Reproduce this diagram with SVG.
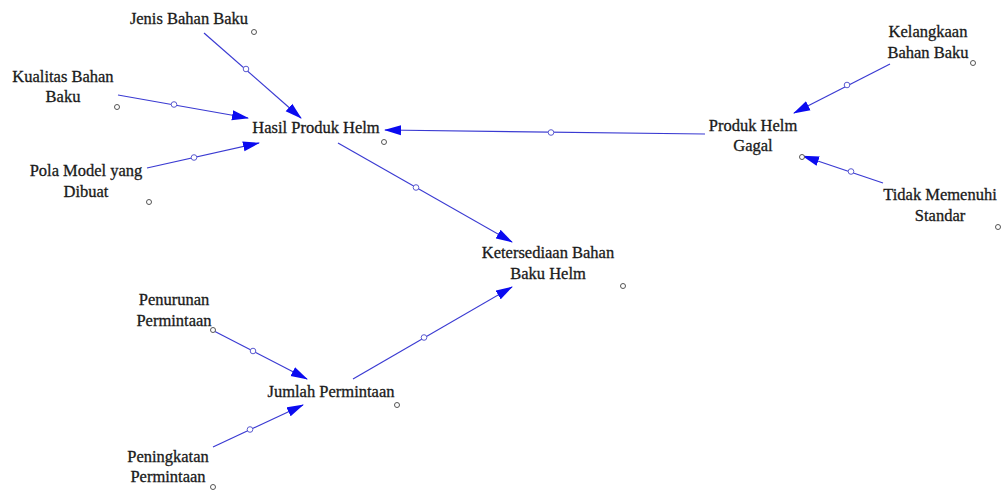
<svg xmlns="http://www.w3.org/2000/svg" width="1001" height="490" viewBox="0 0 1001 490">
<style>
.t{font-family:"Liberation Serif","Times New Roman",serif;font-size:16.5px;fill:#1a1a1a;stroke:#1a1a1a;stroke-width:0.3;text-anchor:middle}
.ln{stroke:#3a3ad2;stroke-width:1.2;fill:none}
.mc{fill:#fff;stroke:#5a5ad0;stroke-width:1}
.vc{fill:#fff;stroke:#555;stroke-width:1}
</style>
<defs>
<marker id="ah" markerUnits="userSpaceOnUse" markerWidth="17" markerHeight="11" viewBox="0 0 17 11" refX="16" refY="5.5" orient="auto">
<path d="M0,0.5 L17,5.5 L0,10.5 Z" fill="#0b0bf0"/>
</marker>
</defs>
<rect width="1001" height="490" fill="#fff"/>
<g id="connectors">
<line class="ln" x1="204" y1="33" x2="301" y2="118" marker-end="url(#ah)"/>
<circle class="mc" cx="246" cy="69" r="2.8"/>
<line class="ln" x1="118" y1="95" x2="248" y2="118" marker-end="url(#ah)"/>
<circle class="mc" cx="174" cy="104.5" r="2.8"/>
<line class="ln" x1="147" y1="168" x2="259" y2="143" marker-end="url(#ah)"/>
<circle class="mc" cx="194" cy="157.5" r="2.8"/>
<line class="ln" x1="705" y1="134" x2="385" y2="130" marker-end="url(#ah)"/>
<circle class="mc" cx="551" cy="132.5" r="2.8"/>
<line class="ln" x1="338" y1="143" x2="512" y2="242" marker-end="url(#ah)"/>
<circle class="mc" cx="416" cy="187.5" r="2.8"/>
<line class="ln" x1="890" y1="64" x2="794" y2="113" marker-end="url(#ah)"/>
<circle class="mc" cx="847" cy="85" r="2.8"/>
<line class="ln" x1="883" y1="183" x2="803" y2="156" marker-end="url(#ah)"/>
<circle class="mc" cx="851" cy="171.5" r="2.8"/>
<line class="ln" x1="214" y1="331" x2="307" y2="379" marker-end="url(#ah)"/>
<circle class="mc" cx="253" cy="351" r="2.8"/>
<line class="ln" x1="213" y1="447" x2="303" y2="405" marker-end="url(#ah)"/>
<circle class="mc" cx="250" cy="429.5" r="2.8"/>
<line class="ln" x1="353" y1="379" x2="512" y2="287" marker-end="url(#ah)"/>
<circle class="mc" cx="424" cy="337.5" r="2.8"/>
</g>
<g id="jenis-bahan-baku">
<text class="t" x="189" y="24">Jenis Bahan Baku</text>
<circle class="vc" cx="254" cy="32" r="2.5"/>
</g>
<g id="kualitas-bahan-baku">
<text class="t" x="63" y="82">Kualitas Bahan</text>
<text class="t" x="63" y="102">Baku</text>
<circle class="vc" cx="117" cy="107" r="2.5"/>
</g>
<g id="pola-model">
<text class="t" x="86" y="176">Pola Model yang</text>
<text class="t" x="86" y="197">Dibuat</text>
<circle class="vc" cx="149" cy="202" r="2.5"/>
</g>
<g id="hasil-produk-helm">
<text class="t" x="316" y="133">Hasil Produk Helm</text>
<circle class="vc" cx="384" cy="142" r="2.5"/>
</g>
<g id="kelangkaan-bahan-baku">
<text class="t" x="928" y="37">Kelangkaan</text>
<text class="t" x="928" y="58">Bahan Baku</text>
<circle class="vc" cx="973" cy="63" r="2.5"/>
</g>
<g id="produk-helm-gagal">
<text class="t" x="753" y="131">Produk Helm</text>
<text class="t" x="753" y="151">Gagal</text>
<circle class="vc" cx="802" cy="157" r="2.5"/>
</g>
<g id="tidak-memenuhi-standar">
<text class="t" x="940" y="200">Tidak Memenuhi</text>
<text class="t" x="940" y="221">Standar</text>
<circle class="vc" cx="998" cy="227" r="2.5"/>
</g>
<g id="ketersediaan-bahan-baku-helm">
<text class="t" x="548" y="258">Ketersediaan Bahan</text>
<text class="t" x="548" y="279">Baku Helm</text>
<circle class="vc" cx="623" cy="286" r="2.5"/>
</g>
<g id="penurunan-permintaan">
<text class="t" x="174" y="305">Penurunan</text>
<text class="t" x="174" y="326">Permintaan</text>
<circle class="vc" cx="213" cy="330" r="2.5"/>
</g>
<g id="jumlah-permintaan">
<text class="t" x="331" y="397">Jumlah Permintaan</text>
<circle class="vc" cx="397" cy="405" r="2.5"/>
</g>
<g id="peningkatan-permintaan">
<text class="t" x="168" y="462">Peningkatan</text>
<text class="t" x="168" y="482">Permintaan</text>
<circle class="vc" cx="213" cy="487" r="2.5"/>
</g>
</svg>
